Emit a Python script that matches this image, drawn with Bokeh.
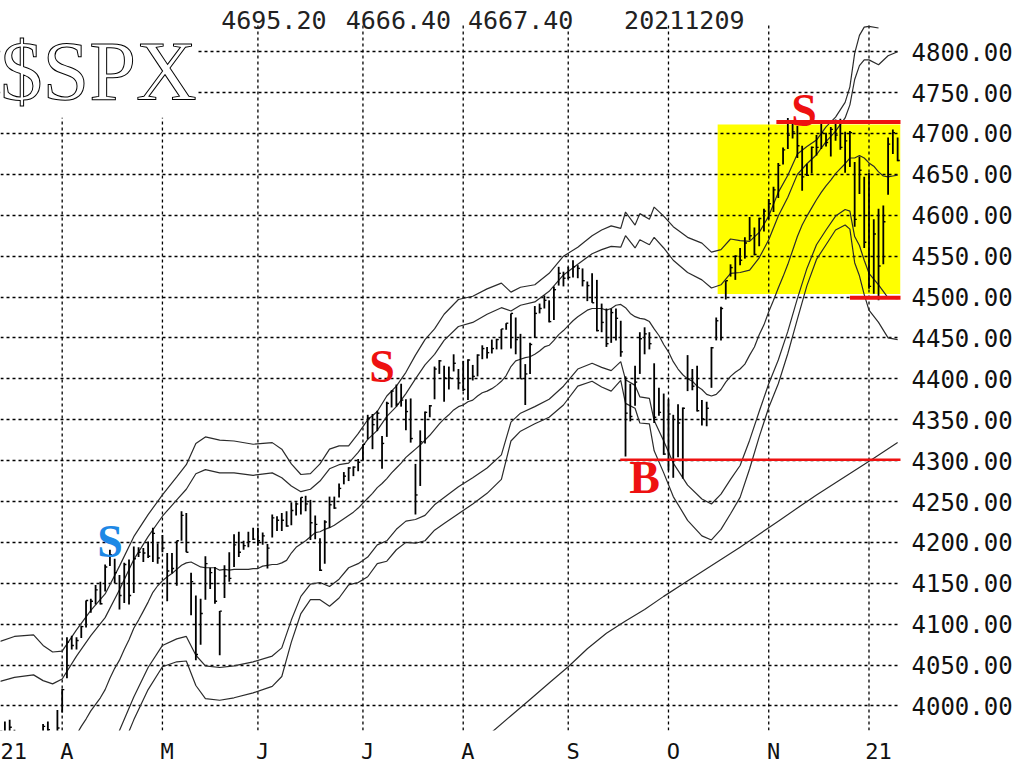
from bokeh.plotting import figure
from bokeh.models import Range1d, FixedTicker, PrintfTickFormatter, Label, BoxAnnotation
from bokeh.embed import file_html
from bokeh.resources import INLINE

# ---------------- data (x = trading-day index, 0 = first trading day of April 2021) ----------------
first_bar = -13
bar_high = [
    3970, 3981, 3983, 3971, 3918, 3956, 3949, 3942, 3919, 3978,
    3981, 3969, 3995, 4021, 4084, 4086, 4084, 4098, 4129, 4131,
    4148, 4152, 4173, 4191, 4180, 4160, 4175, 4179, 4195, 4194,
    4193, 4201, 4218, 4199, 4209, 4187, 4187, 4202, 4238, 4236,
    4163, 4135, 4131, 4183, 4169, 4170, 4116, 4172, 4188, 4210,
    4213, 4202, 4213, 4218, 4218, 4212, 4198, 4234, 4232, 4236,
    4238, 4249, 4249, 4255, 4257, 4252, 4233, 4205, 4227, 4256,
    4256, 4272, 4286, 4292, 4293, 4302, 4320, 4356, 4357, 4361,
    4330, 4372, 4386, 4393, 4394, 4375, 4376, 4296, 4337, 4360,
    4368, 4415, 4423, 4416, 4415, 4430, 4412, 4422, 4424, 4417,
    4430, 4441, 4439, 4448, 4449, 4461, 4468, 4480, 4475, 4455,
    4418, 4444, 4489, 4492, 4502, 4496, 4513, 4537, 4531, 4537,
    4545, 4539, 4535, 4519, 4529, 4521, 4492, 4486, 4486, 4486,
    4471, 4403, 4394, 4416, 4457, 4463, 4457, 4419, 4389, 4382,
    4375, 4356, 4369, 4365, 4429, 4412, 4416, 4374, 4372, 4439,
    4475, 4488, 4520, 4540, 4551, 4560, 4573, 4598, 4585, 4597,
    4608, 4620, 4635, 4664, 4683, 4719, 4715, 4709, 4685, 4663,
    4684, 4698, 4714, 4701, 4708, 4717, 4718, 4702, 4703, 4665,
    4672, 4647, 4652, 4595, 4608, 4612, 4695, 4705, 4695]
bar_low = [
    3924, 3943, 3935, 3914, 3885, 3911, 3901, 3889, 3854, 3917,
    3943, 3935, 3966, 3992, 4034, 4069, 4069, 4083, 4096, 4114,
    4124, 4124, 4140, 4171, 4150, 4118, 4126, 4124, 4138, 4182,
    4176, 4181, 4176, 4174, 4188, 4128, 4162, 4147, 4202, 4188,
    4111, 4056, 4075, 4130, 4143, 4125, 4062, 4132, 4152, 4170,
    4182, 4191, 4194, 4203, 4196, 4197, 4168, 4206, 4214, 4214,
    4219, 4221, 4233, 4234, 4238, 4203, 4204, 4165, 4174, 4218,
    4241, 4255, 4271, 4275, 4281, 4287, 4300, 4326, 4314, 4336,
    4290, 4329, 4365, 4366, 4366, 4337, 4322, 4234, 4269, 4321,
    4353, 4375, 4406, 4372, 4387, 4409, 4387, 4385, 4374, 4398,
    4403, 4424, 4425, 4431, 4436, 4436, 4460, 4437, 4430, 4400,
    4368, 4406, 4450, 4480, 4486, 4469, 4472, 4514, 4513, 4522,
    4524, 4523, 4513, 4495, 4493, 4458, 4457, 4439, 4444, 4447,
    4427, 4305, 4348, 4367, 4406, 4430, 4436, 4346, 4355, 4307,
    4288, 4279, 4304, 4278, 4385, 4386, 4360, 4343, 4342, 4389,
    4447, 4447, 4497, 4525, 4521, 4539, 4547, 4569, 4551, 4562,
    4580, 4595, 4604, 4621, 4662, 4681, 4694, 4670, 4630, 4648,
    4651, 4673, 4681, 4684, 4672, 4691, 4680, 4652, 4659, 4586,
    4626, 4560, 4510, 4504, 4496, 4540, 4625, 4675, 4666]
bar_close = [
    3969, 3963, 3974, 3915, 3913, 3941, 3911, 3889, 3910, 3975,
    3971, 3959, 3973, 4020, 4078, 4074, 4080, 4097, 4129, 4128,
    4142, 4125, 4170, 4185, 4163, 4135, 4173, 4135, 4180, 4188,
    4187, 4183, 4211, 4181, 4193, 4165, 4168, 4202, 4233, 4188,
    4152, 4063, 4113, 4174, 4163, 4128, 4116, 4159, 4156, 4197,
    4188, 4196, 4201, 4204, 4202, 4208, 4193, 4230, 4227, 4227,
    4220, 4239, 4247, 4255, 4247, 4224, 4222, 4166, 4225, 4246,
    4242, 4266, 4281, 4291, 4292, 4298, 4320, 4352, 4344, 4358,
    4321, 4370, 4385, 4369, 4374, 4360, 4327, 4258, 4323, 4359,
    4367, 4412, 4422, 4401, 4401, 4419, 4395, 4387, 4423, 4403,
    4429, 4437, 4432, 4437, 4448, 4461, 4468, 4480, 4448, 4400,
    4406, 4442, 4480, 4486, 4496, 4470, 4509, 4529, 4523, 4524,
    4537, 4535, 4520, 4514, 4493, 4459, 4469, 4443, 4481, 4474,
    4433, 4358, 4354, 4396, 4449, 4455, 4443, 4353, 4359, 4308,
    4357, 4300, 4346, 4364, 4400, 4391, 4361, 4351, 4364, 4438,
    4471, 4486, 4520, 4536, 4550, 4545, 4566, 4575, 4552, 4596,
    4605, 4614, 4631, 4661, 4680, 4698, 4702, 4685, 4647, 4649,
    4683, 4683, 4701, 4689, 4705, 4698, 4683, 4691, 4701, 4595,
    4655, 4567, 4513, 4577, 4538, 4592, 4687, 4701, 4667]

ma20_first = 3
ma20 = [
    3965, 3975, 3984, 3994, 4002, 4010, 4020, 4034, 4046, 4056,
    4069, 4081, 4095, 4105, 4116, 4127, 4139, 4147, 4153, 4158,
    4162, 4167, 4172, 4175, 4176, 4173, 4170, 4169, 4169, 4169,
    4166, 4167, 4166, 4167, 4167, 4167, 4167, 4168, 4168, 4171,
    4172, 4173, 4173, 4175, 4178, 4187, 4194, 4198, 4202, 4207,
    4212, 4213, 4216, 4218, 4221, 4225, 4229, 4233, 4237, 4242,
    4248, 4254, 4260, 4267, 4272, 4278, 4285, 4291, 4297, 4304,
    4309, 4314, 4319, 4325, 4331, 4338, 4345, 4351, 4356, 4362,
    4366, 4368, 4372, 4374, 4379, 4383, 4385, 4388, 4392, 4397,
    4404, 4415, 4422, 4424, 4426, 4427, 4430, 4434, 4439, 4441,
    4447, 4454, 4459, 4465, 4471, 4476, 4480, 4484, 4486, 4486,
    4486, 4484, 4486, 4490, 4491, 4487, 4480, 4476, 4474, 4473,
    4470, 4461, 4453, 4442, 4433, 4421, 4412, 4405, 4400, 4397,
    4391, 4387, 4381, 4379, 4381, 4387, 4396, 4403, 4408, 4412,
    4418, 4429, 4439, 4454, 4466, 4482, 4496, 4511, 4525, 4540,
    4557, 4574, 4588, 4599, 4609, 4619, 4628, 4636, 4643, 4651,
    4657, 4663, 4670, 4670, 4673, 4670, 4664, 4660, 4653, 4648,
    4647, 4648, 4649]

band_day = [
    -13, -10, -6, -4, -2, 0, 3, 6, 9, 12,
    15, 18, 21, 24, 26, 28, 30, 33, 36, 40,
    44, 46, 48, 50, 52, 54, 56, 58, 60, 62,
    64, 66, 68, 70, 72, 74, 76, 78, 80, 83,
    86, 89, 92, 94, 96, 99, 102, 105, 108, 111,
    113, 115, 117, 118, 120, 121, 123, 124, 126, 128,
    131, 134, 136, 138, 140, 142, 144, 146, 148, 150,
    152, 154, 156, 158, 160, 162, 164, 165, 166, 167,
    168, 169, 171, 173, 175]
band_upper_outer = [
    4079, 4085, 4087, 4074, 4066, 4067, 4093, 4117, 4137, 4171,
    4207, 4234, 4258, 4280, 4295, 4321, 4329, 4325, 4324, 4320,
    4322, 4314, 4296, 4283, 4284, 4296, 4314, 4318, 4318, 4333,
    4350, 4360, 4379, 4391, 4408, 4429, 4448, 4461, 4479, 4497,
    4501, 4510, 4517, 4506, 4512, 4515, 4529, 4550, 4561, 4575,
    4582, 4587, 4584, 4604, 4588, 4602, 4595, 4610, 4599, 4586,
    4573, 4566, 4555, 4558, 4571, 4569, 4568, 4579, 4599, 4628,
    4649, 4675, 4684, 4692, 4708, 4720, 4738, 4757, 4798, 4820,
    4830, 4831, 4829, float("nan"), float("nan")]
band_upper_inner = [
    4030, 4035, 4038, 4031, 4027, 4033, 4061, 4086, 4108, 4142,
    4179, 4207, 4232, 4252, 4265, 4284, 4289, 4285, 4285, 4282,
    4285, 4279, 4269, 4262, 4265, 4275, 4290, 4295, 4297, 4310,
    4326, 4337, 4354, 4366, 4382, 4400, 4417, 4430, 4447, 4464,
    4469, 4479, 4487, 4483, 4490, 4494, 4507, 4527, 4540, 4553,
    4558, 4562, 4561, 4575, 4560, 4570, 4564, 4573, 4560, 4545,
    4530, 4521, 4511, 4515, 4529, 4530, 4533, 4548, 4570, 4599,
    4622, 4650, 4663, 4674, 4690, 4703, 4719, 4735, 4766, 4783,
    4790, 4790, 4784, 4795, 4800]
band_lower_inner = [
    3736, 3737, 3742, 3773, 3793, 3827, 3869, 3902, 3932, 3970,
    4011, 4047, 4074, 4082, 4085, 4062, 4049, 4047, 4049, 4054,
    4061, 4071, 4105, 4134, 4149, 4151, 4146, 4155, 4169, 4174,
    4182, 4197, 4202, 4216, 4226, 4228, 4233, 4246, 4255, 4268,
    4279, 4291, 4307, 4347, 4358, 4366, 4375, 4391, 4412, 4419,
    4414, 4410, 4421, 4399, 4392, 4378, 4376, 4349, 4324, 4297,
    4270, 4253, 4247, 4259, 4277, 4294, 4325, 4360, 4394, 4423,
    4458, 4498, 4535, 4564, 4582, 4599, 4607, 4605, 4574, 4563,
    4545, 4529, 4515, 4499, 4498]
band_lower_outer = [
    3687, 3687, 3693, 3730, 3754, 3793, 3837, 3871, 3903, 3941,
    3983, 4020, 4048, 4054, 4055, 4025, 4009, 4007, 4010, 4016,
    4024, 4036, 4078, 4113, 4130, 4130, 4122, 4132, 4148, 4151,
    4158, 4174, 4177, 4191, 4200, 4199, 4202, 4215, 4223, 4235,
    4247, 4260, 4277, 4324, 4336, 4345, 4353, 4368, 4391, 4397,
    4390, 4385, 4398, 4370, 4364, 4346, 4345, 4312, 4285, 4256,
    4227, 4208, 4203, 4216, 4235, 4255, 4290, 4329, 4365, 4394,
    4431, 4473, 4514, 4546, 4564, 4582, 4588, 4583, 4542, 4526,
    4503, 4484, 4469, 4450, 4448]

ma200_day = [86, 90, 94, 98, 102, 106, 110, 114, 118, 122, 126, 130,
             134, 138, 142, 146, 150, 154, 158, 162, 166, 170, 175]
ma200 = [3948, 3968, 3988, 4008, 4028, 4048, 4070, 4089, 4104, 4118, 4134, 4149,
         4164, 4179, 4194, 4210, 4226, 4242, 4258, 4273, 4288, 4303, 4322]

month_start = [0, 21, 41, 63, 84, 106, 127, 148, 169]
month_label_pos = [-10.5, 1, 22, 42, 64, 85, 107, 128, 149, 171]
month_labels = ["21", "A", "M", "J", "J", "A", "S", "O", "N", "21"]
price_ticks = list(range(4000, 4801, 50))

header_values = ["4695.20", "4666.40", "4667.40", "20211209"]
header_day = [33.3, 59.4, 85.0, 117.7]
symbol_text = "$SPX"

signal_text = ["S", "S", "S", "B"]
signal_day = [10, 67, 155.4, 122]
signal_price = [4201, 4415, 4728, 4279]
signal_color = ["#1e88e5", "#ee1111", "#ee1111", "#ee1111"]

hilite_start_day = 137.3
hilite_low, hilite_high = 4503.6, 4711
sell_level, sell_from = 4714, 149.6
support_level, support_from = 4499, 165.0
buy_level, buy_from = 4301, 116.9

# ---------------- plot ----------------
X0, X1 = -12.92, 175.6
Y0, Y1 = 3970, 4862.6
GRID_TOP = 4832.5
HEADER_Y = 4838.5
INK = "#000000"

assert len(bar_high) == len(bar_low) == len(bar_close)
assert len(band_day) == len(band_upper_outer) == len(band_upper_inner) == len(band_lower_inner) == len(band_lower_outer)
assert len(ma200_day) == len(ma200)

days = list(range(first_bar, first_bar + len(bar_close)))
ma20_days = list(range(ma20_first, ma20_first + len(ma20)))

p = figure(frame_width=900, frame_height=730,
           x_range=Range1d(X0, X1), y_range=Range1d(Y0, Y1),
           y_axis_location="right", output_backend="svg", toolbar_location=None,
           min_border_left=0, min_border_right=0, min_border_top=0, min_border_bottom=0,
           background_fill_color="white", border_fill_color="white")
p.outline_line_color = None

# yellow highlight box (under grid)
p.add_layout(BoxAnnotation(left=hilite_start_day, bottom=hilite_low, top=hilite_high,
                           fill_color="#ffff00", fill_alpha=1.0, line_color=None, level="image"))

# grid
p.xgrid.visible = False
p.ygrid.ticker = FixedTicker(ticks=price_ticks)
p.ygrid.grid_line_color = INK
p.ygrid.grid_line_dash = "3 3"
p.ygrid.grid_line_width = 1.3
p.segment(x0=month_start, x1=month_start, y0=[Y0] * len(month_start), y1=[GRID_TOP] * len(month_start),
          line_color=INK, line_dash="3 3", line_width=1.3)

# axes
p.yaxis.ticker = FixedTicker(ticks=price_ticks)
p.yaxis.formatter = PrintfTickFormatter(format="%.2f")
p.yaxis.major_label_text_font = "DejaVu Sans Mono"
p.yaxis.major_label_text_font_size = "24px"
p.yaxis.major_label_text_color = "#111111"
p.yaxis.axis_line_color = None
p.yaxis.major_tick_line_color = None
p.yaxis.minor_tick_line_color = None
p.yaxis.major_label_standoff = 5

p.xaxis.ticker = FixedTicker(ticks=month_label_pos)
p.xaxis.major_label_overrides = dict(zip(month_label_pos, month_labels))
p.xaxis.major_label_text_font = "DejaVu Sans Mono"
p.xaxis.major_label_text_font_size = "22px"
p.xaxis.major_label_text_color = "#111111"
p.xaxis.axis_line_color = None
p.xaxis.major_tick_line_color = None
p.xaxis.minor_tick_line_color = None
p.xaxis.major_label_standoff = 2

# bands and moving averages
BAND = "#2b2b2b"
p.line(ma200_day, ma200, line_color=BAND, line_width=1.2)
p.line(band_day, band_upper_outer, line_color=BAND, line_width=1.2)
p.line(band_day, band_upper_inner, line_color=BAND, line_width=1.2)
p.line(band_day, band_lower_inner, line_color=BAND, line_width=1.2)
p.line(band_day, band_lower_outer, line_color=BAND, line_width=1.2)
p.line(ma20_days, ma20, line_color=BAND, line_width=1.2)

# price bars
p.segment(x0=days, x1=days, y0=bar_low, y1=bar_high, line_color="black", line_width=1.8)
p.segment(x0=days, x1=[d + 0.45 for d in days], y0=bar_close, y1=bar_close,
          line_color="black", line_width=1.4)

# red level lines
RED = "#ee1111"
p.segment(x0=[sell_from], x1=[X1 + 1], y0=[sell_level], y1=[sell_level], line_color=RED, line_width=4)
p.segment(x0=[support_from], x1=[X1 + 1], y0=[support_level], y1=[support_level], line_color=RED, line_width=4)
p.segment(x0=[buy_from], x1=[X1 + 1], y0=[buy_level], y1=[buy_level], line_color=RED, line_width=2.5)

# signal letters
for t, d, v, c in zip(signal_text, signal_day, signal_price, signal_color):
    p.add_layout(Label(x=d, y=v, text=t, text_font="Liberation Serif", text_font_style="bold",
                       text_font_size="46px", text_color=c, text_align="center",
                       text_baseline="alphabetic"))

# header values and symbol
for t, d in zip(header_values, header_day):
    p.add_layout(Label(x=d, y=HEADER_Y, text=t, text_font="DejaVu Sans Mono",
                       text_font_size="25px", text_color="#222222", text_baseline="alphabetic"))
p.add_layout(Label(x=X0, y=4776, text=symbol_text, text_font="Liberation Serif",
                   text_font_size="84px", text_color="white", text_outline_color="black",
                   background_fill_color="white", text_baseline="alphabetic"))

open("out.html", "w").write(file_html(p, INLINE))
